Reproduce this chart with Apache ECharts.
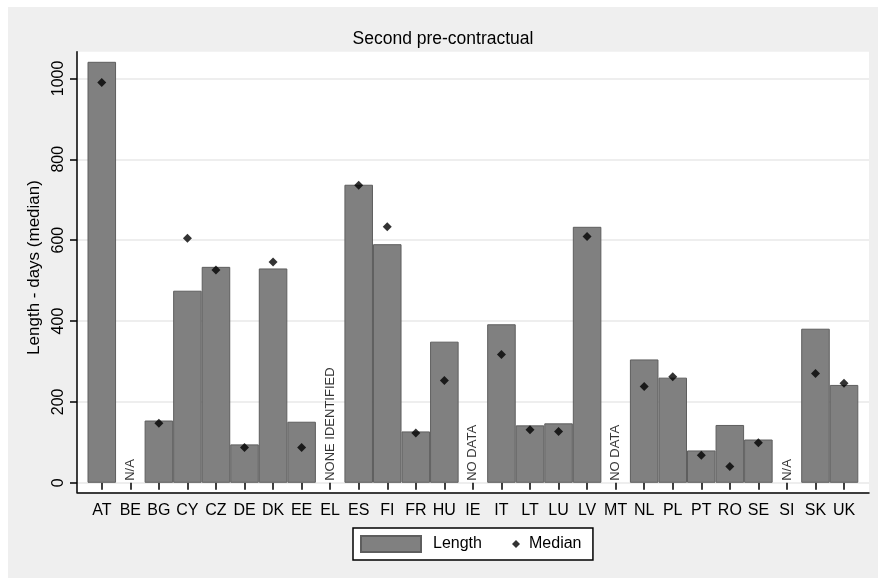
<!DOCTYPE html>
<html>
<head>
<meta charset="utf-8">
<script src="https://cdn.jsdelivr.net/npm/echarts@6/dist/echarts.min.js"></script>
<style>
  body { margin: 0; background: #fff; }
  #main { margin: 7px 0 0 8px; width: 870px; height: 571px; background: #efefef; }
</style>
</head>
<body>
<div id="main"></div>
<script>
var countries = ['AT','BE','BG','CY','CZ','DE','DK','EE','EL','ES','FI','FR','HU','IE','IT','LT','LU','LV','MT','NL','PL','PT','RO','SE','SI','SK','UK'];
// bar = length, diamond = median ('-' where no value)
var lengthDays = [1041,'-',154,475,534,95,530,151,'-',737,590,127,349,'-',392,142,147,633,'-',305,260,80,143,107,'-',381,242];
var medianDays = [990,'-',147,605,526,87,546,87,'-',736,633,123,253,'-',317,131,127,609,'-',238,262,68,40,99,'-',270,246];
// text written where there is no bar
var noteCountries = ['BE','EL','IE','MT','SI'];
var noteTexts = ['N/A','NONE IDENTIFIED','NO DATA','NO DATA','N/A'];
var yTicks = [0, 200, 400, 600, 800, 1000];

var font = "'Liberation Sans', Arial, sans-serif";
var myChart = echarts.init(document.getElementById('main'));

var option = {
    animation: false,
    textStyle: { fontFamily: font },
    title: {
        text: 'Second pre-contractual',
        left: 'center',
        top: 23,
        padding: [0, 0, 0, 56],
        textStyle: { fontSize: 17.5, fontWeight: 'normal', color: '#000', fontFamily: font }
    },
    legend: [{
        data: [{ name: 'Length', icon: 'rect' }],
        left: 345,
        top: 521,
        padding: [7, 111, 7, 7],
        itemWidth: 60,
        itemHeight: 16,
        backgroundColor: '#fff',
        borderColor: '#000',
        borderWidth: 1.5,
        borderRadius: 0,
        selectedMode: false,
        textStyle: { fontSize: 16, color: '#000', padding: [0, 0, 0, 7], fontFamily: font }
    }, {
        data: [{ name: 'Median', icon: 'diamond' }],
        left: 504,
        top: 529,
        padding: 0,
        z: 5,
        itemWidth: 8,
        itemHeight: 8,
        selectedMode: false,
        textStyle: { fontSize: 16, color: '#000', padding: [0, 0, 0, 4], fontFamily: font }
    }],
    grid: [
        // bars
        { left: 79.5, right: 19.7, top: 44.7, bottom: 85.7, show: false },
        // plot frame, full width
        { left: 69, right: 9, top: 44.7, bottom: 85.7, show: true, backgroundColor: '#fff', borderWidth: 0 }
    ],
    xAxis: [{
        type: 'category',
        gridIndex: 0,
        data: countries,
        axisLine: { show: false },
        axisTick: { show: true, alignWithLabel: true, interval: 0, length: 7, lineStyle: { color: '#000', width: 1.5 } },
        axisLabel: { interval: 0, fontSize: 16, color: '#000', margin: 10, fontFamily: font }
    }, {
        type: 'value',
        gridIndex: 1,
        min: 0,
        max: 1,
        axisLine: { show: true, onZero: false, lineStyle: { color: '#000', width: 1.5 } },
        axisTick: { show: false },
        axisLabel: { show: false },
        splitLine: { show: false }
    }],
    yAxis: [{
        type: 'value',
        gridIndex: 0,
        min: -23.5,
        max: 1066,
        show: false
    }, {
        type: 'value',
        gridIndex: 1,
        min: -23.5,
        max: 1066,
        name: 'Length - days (median)',
        nameLocation: 'middle',
        nameRotate: 90,
        nameGap: 26.5,
        nameTextStyle: { fontSize: 17, color: '#000', padding: [0, 0, 0, 9], fontFamily: font },
        axisLine: { show: true, lineStyle: { color: '#000', width: 1.5 } },
        axisTick: { show: true, length: 7, customValues: yTicks, lineStyle: { color: '#000', width: 1.5 } },
        axisLabel: {
            rotate: 90, fontSize: 16, color: '#000', margin: 10, customValues: yTicks, fontFamily: font,
            formatter: function (v) { return String(v); }
        },
        splitLine: { show: true, lineStyle: { color: '#e8e8e8', width: 1.5 } }
    }],
    series: [{
        name: 'Length',
        type: 'bar',
        xAxisIndex: 0,
        yAxisIndex: 0,
        barCategoryGap: '0%',
        data: lengthDays,
        itemStyle: { color: '#808080', borderColor: '#5e5e5e', borderWidth: 1 }
    }, {
        name: 'Median',
        type: 'scatter',
        xAxisIndex: 0,
        yAxisIndex: 0,
        symbol: 'diamond',
        symbolSize: 9,
        data: medianDays,
        itemStyle: { color: '#000' },
        z: 3
    }, {
        name: 'notes',
        type: 'scatter',
        xAxisIndex: 0,
        yAxisIndex: 0,
        symbolSize: 1,
        itemStyle: { color: 'rgba(0,0,0,0)' },
        data: noteCountries.map(function (c) { return [c, 0]; }),
        label: {
            show: true,
            position: 'inside',
            rotate: 90,
            align: 'left',
            verticalAlign: 'middle',
            padding: [0, 0, 0, 2],
            fontSize: 13,
            color: '#000',
            fontFamily: font,
            formatter: function (p) { return noteTexts[p.dataIndex]; }
        }
    }]
};
myChart.setOption(option);
</script>
</body>
</html>
